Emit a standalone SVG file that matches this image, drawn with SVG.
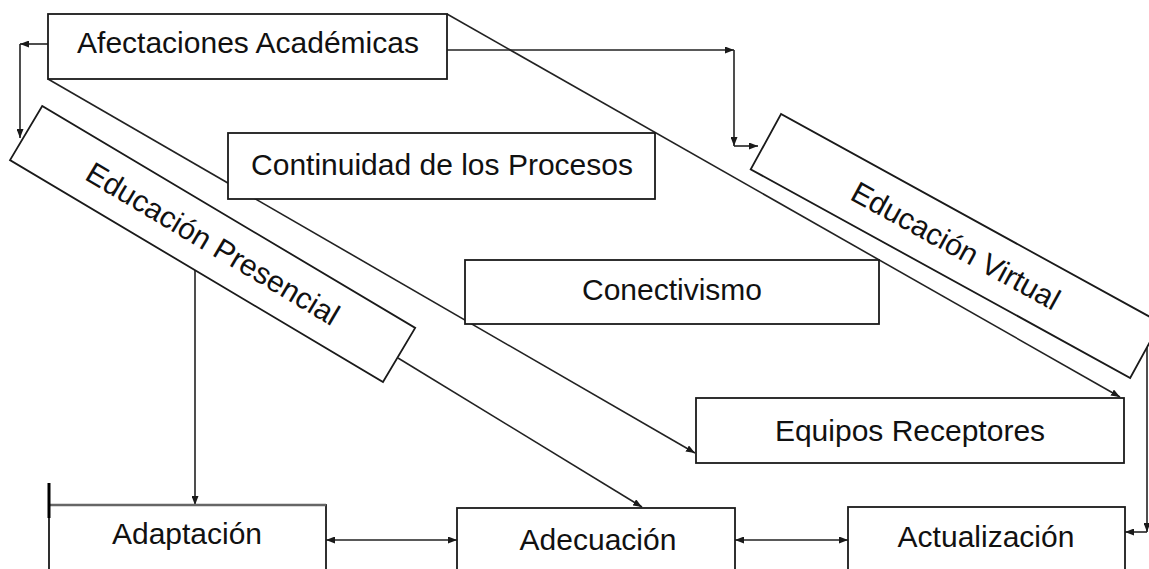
<svg xmlns="http://www.w3.org/2000/svg" width="1149" height="569" viewBox="0 0 1149 569">
<style>
.box{fill:#fff;stroke:#1a1a1a;stroke-width:1.8}
.lbl{font-family:"Liberation Sans",Arial,sans-serif;font-size:30px;fill:#111;text-anchor:middle}
.c{fill:none;stroke:#222;stroke-width:1.6}
</style>
<defs>
<marker id="ar" markerUnits="userSpaceOnUse" markerWidth="9" markerHeight="7" viewBox="0 0 9 7" refX="9" refY="3.5" orient="auto-start-reverse">
<path d="M0,0 L9,3.5 L0,7 z" fill="#1a1a1a"/>
</marker>
</defs>
<rect width="1149" height="569" fill="#fff"/>
<g id="connectors">
<path class="c" d="M48,44 H20" marker-end="url(#ar)"/>
<path class="c" d="M20,44 V138" marker-end="url(#ar)"/>
<path class="c" d="M443,50 H734" marker-end="url(#ar)"/>
<path class="c" d="M734,50 V146" marker-end="url(#ar)"/>
<path class="c" d="M734,146 H758" marker-end="url(#ar)"/>
<path class="c" d="M447,14 L1120,397" marker-end="url(#ar)"/>
<path class="c" d="M48,79 L695,453" marker-end="url(#ar)"/>
<path class="c" d="M195,270 V505" marker-end="url(#ar)"/>
<path class="c" d="M398,358 L642,507" marker-end="url(#ar)"/>
<path class="c" d="M326,540 H457" marker-start="url(#ar)" marker-end="url(#ar)"/>
<path class="c" d="M735,540 H848" marker-start="url(#ar)" marker-end="url(#ar)"/>
<path class="c" d="M1147,344 V532" marker-end="url(#ar)"/>
<path class="c" d="M1147,532 H1125" marker-end="url(#ar)"/>
</g>
<g id="afectaciones">
<rect class="box" x="48" y="14" width="399" height="65"/>
<text class="lbl" x="248" y="53">Afectaciones Académicas</text>
</g>
<g id="continuidad">
<rect class="box" x="228" y="133" width="427" height="66"/>
<text class="lbl" x="442" y="175">Continuidad de los Procesos</text>
</g>
<g id="conectivismo">
<rect class="box" x="465" y="260" width="414" height="64"/>
<text class="lbl" x="672" y="300">Conectivismo</text>
</g>
<g id="equipos">
<rect class="box" x="696" y="398" width="428" height="65"/>
<text class="lbl" x="910" y="441">Equipos Receptores</text>
</g>
<g id="presencial" transform="translate(212.6,244) rotate(30.76)">
<rect class="box" x="-217" y="-31.5" width="434" height="63"/>
<text class="lbl" x="0" y="10">Educación Presencial</text>
</g>
<g id="virtual" transform="translate(955.6,246) rotate(28.8)">
<rect class="box" x="-216.5" y="-31.5" width="433" height="63"/>
<text class="lbl" x="0" y="10">Educación Virtual</text>
</g>
<g id="adaptacion">
<rect class="box" x="49" y="505" width="277" height="80"/>
<line x1="49" y1="505" x2="326" y2="505" stroke="#666" stroke-width="2.4"/>
<line x1="49" y1="483" x2="49" y2="518" stroke="#000" stroke-width="3"/>
<text class="lbl" x="187" y="544">Adaptación</text>
</g>
<g id="adecuacion">
<rect class="box" x="457" y="508" width="278" height="80"/>
<text class="lbl" x="598" y="550">Adecuación</text>
</g>
<g id="actualizacion">
<rect class="box" x="848" y="507" width="277" height="80"/>
<text class="lbl" x="986" y="547">Actualización</text>
</g>
</svg>
